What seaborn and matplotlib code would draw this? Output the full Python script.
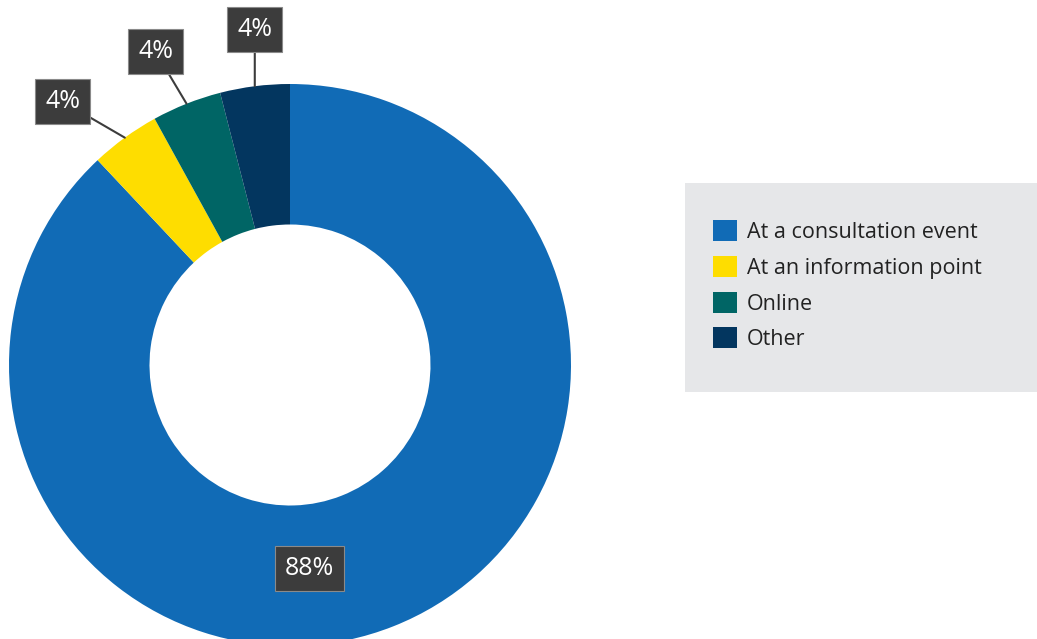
import numpy as np
import matplotlib
matplotlib.use("Agg")
import matplotlib.pyplot as plt
from matplotlib.patches import Rectangle
import seaborn as sns

# data
categories = ["At a consultation event", "At an information point", "Online", "Other"]
shares = [88, 4, 4, 4]
colours = ["#116bb6", "#fedd00", "#006565", "#03365f"]

sns.set_theme(style="white")
plt.rcParams["font.family"] = ["Open Sans", "DejaVu Sans"]

W, H = 1037, 639
fig = plt.figure(figsize=(W / 100, H / 100), dpi=100)
ax = fig.add_axes([0, 0, 1, 1])

centre = (290, H - 365)
radius = 281
palette = sns.color_palette(colours)

wedges, _ = ax.pie(shares, colors=palette, startangle=90, counterclock=False,
                   radius=radius, center=centre, frame=True,
                   wedgeprops=dict(width=radius * 0.5, linewidth=0))
ax.set_xlim(0, W)
ax.set_ylim(0, H)
ax.set_aspect("equal")
ax.axis("off")

box = dict(boxstyle="square,pad=0.4", fc="#3c3c3c", ec="#8a8a8a", lw=0.8)

# small slices: labels outside with leader lines
offsets = {1: (-62, 36), 2: (-31, 52), 3: (0, 57)}
for i, w in enumerate(wedges):
    mid = np.deg2rad((w.theta1 + w.theta2) / 2)
    label = f"{shares[i]}%"
    if i in offsets:
        ex = centre[0] + radius * np.cos(mid)
        ey = centre[1] + radius * np.sin(mid)
        dx, dy = offsets[i]
        ax.annotate(label, xy=(ex, ey), xytext=(ex + dx, ey + dy),
                    ha="center", va="center", color="white", fontsize=18,
                    bbox=box,
                    arrowprops=dict(arrowstyle="-", color="#3c3c3c", lw=1.5,
                                    shrinkA=0, shrinkB=0))
    else:
        ang = np.deg2rad(-84.6)
        ax.text(centre[0] + 204 * np.cos(ang), centre[1] + 204 * np.sin(ang), label,
                ha="center", va="center", color="white", fontsize=18, bbox=box)

# grey legend panel
fig.patches.append(Rectangle((685 / W, 1 - 392 / H), (W - 685) / W, 209 / H,
                             transform=fig.transFigure, fc="#e6e7e9", ec="none", zorder=0))
handles = [Rectangle((0, 0), 1, 1, fc=c, ec="none") for c in palette]
fig.legend(handles, categories, loc="upper left",
           bbox_to_anchor=(694 / W, 1 - 201 / H), frameon=False, fontsize=15.5,
           handlelength=1.12, handleheight=1.12, handletextpad=0.45,
           labelspacing=0.6, labelcolor="#222222")

fig.savefig("out.png", dpi=100)
